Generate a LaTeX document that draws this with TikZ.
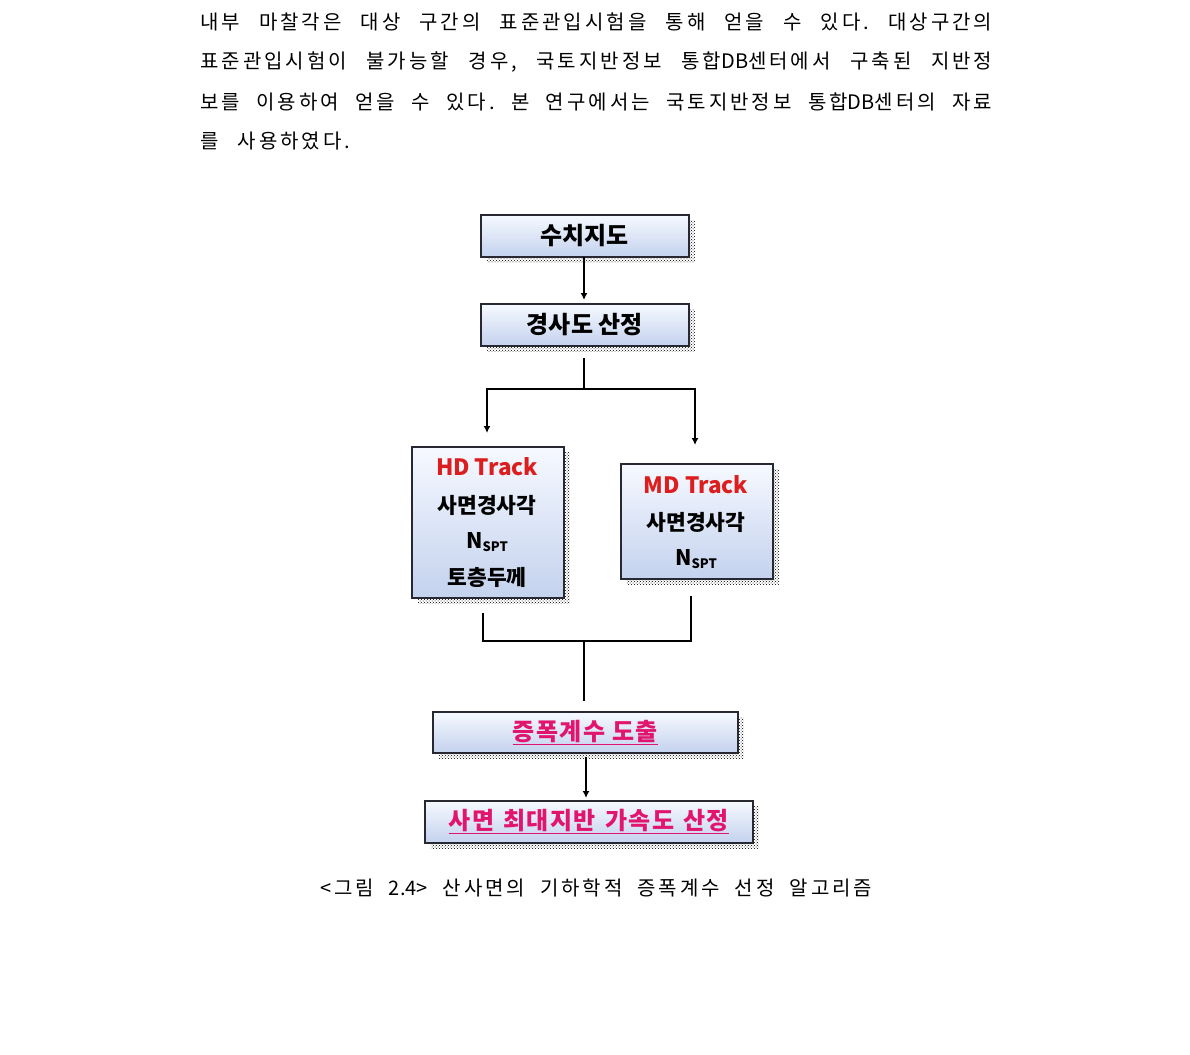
\documentclass[tikz,border=0pt]{standalone}
\usepackage{fontspec}
\setmainfont{Noto Sans CJK KR}
\usetikzlibrary{patterns,shadows,arrows.meta}
\definecolor{boxtop}{RGB}{246,249,255}
\definecolor{boxbot}{RGB}{196,210,238}
\definecolor{boxline}{RGB}{40,40,50}
\definecolor{trackred}{RGB}{220,30,30}
\definecolor{pinkt}{RGB}{225,20,110}
\newcommand{\lat}[1]{{\addfontfeature{LetterSpace=0}#1}}
\frenchspacing
\begin{document}
\begin{tikzpicture}[x=1pt,y=-1pt,
  flowbox/.style={draw=boxline, line width=1.6pt, top color=boxtop, bottom color=boxbot,
     inner sep=0pt, anchor=north west,
     general shadow={shadow xshift=6pt, shadow yshift=-6pt, pattern=crosshatch dots, pattern color=black}},
  boxtxt/.style={font=\fontsize{24}{26}\selectfont\bfseries, inner sep=0pt},
  pinktxt/.style={font=\fontsize{24}{26}\selectfont\bfseries\addfontfeature{LetterSpace=6}, text=pinkt, inner sep=0pt},
  itemtxt/.style={font=\fontsize{21.5}{24}\selectfont\bfseries, inner sep=0pt},
  tracktxt/.style={font=\fontsize{22.5}{24}\selectfont\bfseries, text=trackred, inner sep=0pt},
  paratxt/.style={font=\fontsize{20}{24}\selectfont\addfontfeature{LetterSpace=15}, inner sep=0pt, anchor=west},
  conn/.style={line width=2.6pt, draw=black},
  arr/.style={conn, -{Latex[length=7pt,width=7pt]}}
]
\useasboundingbox (0,0) rectangle (1190,1054);

% paragraph
\node[paratxt] (p1) at (200,22) {\makebox[792pt][s]{내부 마찰각은 대상 구간의 표준관입시험을 통해 얻을 수 있다. 대상구간의}};
\node[paratxt] (p2) at (200,62) {\makebox[792pt][s]{표준관입시험이 불가능할 경우, 국토지반정보 통합\lat{DB}센터에서 구축된 지반정}};
\node[paratxt] (p3) at (200,102) {\makebox[792pt][s]{보를 이용하여 얻을 수 있다. 본 연구에서는 국토지반정보 통합\lat{DB}센터의 자료}};
\node[paratxt] (p4) at (200,141) {\makebox[150pt][s]{를 사용하였다.}};

% boxes
\node[flowbox, minimum width=208pt, minimum height=42pt] (b1) at (480,214) {};
\node[boxtxt] (t1) at (b1.center) {수치지도};
\node[flowbox, minimum width=208pt, minimum height=42pt] (b2) at (480,303) {};
\node[boxtxt] (t2) at (b2.center) {경사도 산정};

\node[flowbox, minimum width=152pt, minimum height=151pt] (hd) at (411,446) {};
\node[tracktxt] (hd1) at (487,467) {HD Track};
\node[itemtxt] (hd2) at (487,505) {사면경사각};
\node[itemtxt] (hd3) at (487,542) {N\raisebox{-3pt}{\fontsize{13}{13}\selectfont SPT}};
\node[itemtxt] (hd4) at (487,577) {토층두께};

\node[flowbox, minimum width=152pt, minimum height=115pt] (md) at (620,463) {};
\node[tracktxt] (md1) at (696,485) {MD Track};
\node[itemtxt] (md2) at (696,522) {사면경사각};
\node[itemtxt] (md3) at (696,559) {N\raisebox{-3pt}{\fontsize{13}{13}\selectfont SPT}};

\node[flowbox, minimum width=305pt, minimum height=41pt] (b5) at (432,711) {};
\node[pinktxt] (t5) at (b5.center) {\underline{증폭계수 도출}};
\node[flowbox, minimum width=328pt, minimum height=42pt] (b6) at (424,800) {};
\node[pinktxt] (t6) at (b6.center) {\underline{\makebox[280pt][s]{사면 최대지반 가속도 산정}}};

% caption
\node[paratxt] (cap) at (320,888) {\makebox[552pt][s]{<그림 \lat{2.4>} 산사면의 기하학적 증폭계수 선정 알고리즘}};

% connectors
\coordinate (s1) at (584,257);
\coordinate (e1) at (584,300);
\draw[arr] (s1) -- (e1);

\coordinate (s2) at (584,358);
\coordinate (j2) at (584,389);
\coordinate (l2) at (487,389);
\coordinate (r2) at (695,389);
\coordinate (le) at (487,433);
\coordinate (re) at (695,445);
\draw[conn] (s2) -- (j2);
\draw[arr] (j2) -- (l2) -- (le);
\draw[arr] (j2) -- (r2) -- (re);

\coordinate (hs) at (483,613);
\coordinate (hj) at (483,641);
\coordinate (ms) at (691,596);
\coordinate (mj) at (691,641);
\coordinate (cj) at (584,641);
\coordinate (ce) at (584,701);
\draw[conn] (hs) -- (hj) -- (mj) -- (ms);
\draw[conn] (cj) -- (ce);

\coordinate (s5) at (586,757);
\coordinate (e5) at (586,798);
\draw[arr] (s5) -- (e5);
\end{tikzpicture}
\end{document}
